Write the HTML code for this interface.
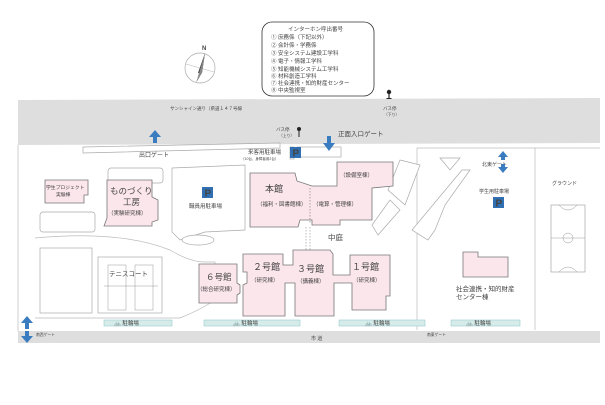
<!DOCTYPE html>
<html><head><meta charset="utf-8"><style>
body{margin:0;background:#fff;width:605px;height:405px;overflow:hidden}
svg{display:block}
text{font-family:"Liberation Sans","Noto Sans CJK JP",sans-serif;fill:#444}
.b{fill:#fbe6ec;stroke:#777;stroke-width:0.8}
.w{fill:#fff;stroke:#aaa;stroke-width:0.7}
.bar{fill:#d6ecea;stroke:#9cc;stroke-width:0.6}
.ar{fill:#3a7cc0}
</style></head><body>
<svg width="605" height="405" viewBox="0 0 605 405">
<rect x="262" y="22" width="112" height="74" rx="10" fill="#fff" stroke="#333" stroke-width="0.8"/>
<g font-size="5.5">
<text x="288" y="31">インターホン呼出番号</text>
<text x="271" y="39">① 庶務係（下記以外）</text>
<text x="271" y="47">② 会計係・学務係</text>
<text x="271" y="55">③ 安全システム建設工学科</text>
<text x="271" y="63">④ 電子・情報工学科</text>
<text x="271" y="71">⑤ 知能機械システム工学科</text>
<text x="271" y="78">⑥ 材料創造工学科</text>
<text x="271" y="85">⑦ 社会連携・知的財産センター</text>
<text x="271" y="92">⑧ 中央監視室</text>
</g>
<circle cx="200" cy="68" r="15" fill="#fff" stroke="#aaa" stroke-width="0.7"/>
<line x1="186" y1="64" x2="214" y2="72" stroke="#bbb" stroke-width="0.6"/>
<polygon points="205,53 198,73 202,73" fill="#333"/>
<polygon points="205,53 202,73 196,83" fill="#888"/>
<text x="202" y="50" font-size="6" font-weight="bold" fill="#222">N</text>
<polygon points="18,100 600,98 600,143 18,145" fill="#dedede"/>
<text x="170" y="110" font-size="4.5">サンシャイン通り（県道１４７号線</text>
<circle cx="389" cy="92" r="2.2" fill="#222"/><rect x="388.4" y="92" width="1.2" height="6" fill="#222"/><rect x="386.5" y="98" width="5" height="1" fill="#222"/>
<text x="383" y="110" font-size="4.5">バス停</text><text x="384" y="116" font-size="3.8">（下り）</text>
<rect x="18" y="145" width="582" height="186" fill="#fff"/>
<line x1="18" y1="145" x2="18" y2="331" stroke="#bbb" stroke-width="0.7"/>
<polygon points="83,147 280,143 280,148 83,153" class="w"/>
<rect x="290" y="147" width="4" height="12" class="w"/>
<rect x="297" y="147" width="44" height="10" class="w"/>
<line x1="417" y1="148" x2="417" y2="330" stroke="#bbb" stroke-width="0.7"/>
<line x1="417" y1="148" x2="600" y2="148" stroke="#bbb" stroke-width="0.7"/>
<line x1="535" y1="148" x2="535" y2="330" stroke="#bbb" stroke-width="0.7"/>
<path d="M35 238 Q120 230 170 250 Q190 262 205 262 L215 262 L215 300 Q200 310 180 318 L35 318" fill="none" stroke="#bbb" stroke-width="0.7"/>
<rect x="40" y="212" width="55" height="20" rx="3" class="w"/>
<rect x="108" y="168" width="55" height="15" rx="3" class="w"/>
<path d="M172 168 L245 165 L245 230 L205 232 L180 240 L172 232 Z" class="w"/>
<ellipse cx="198" cy="240" rx="16" ry="5" class="w"/>
<polygon points="440,158 460,158 450,170" class="w"/>
<path d="M400 160 L420 165 L405 205 L388 190 Z" class="w"/>
<path d="M462 170 L470 170 L445 205 L435 230 L428 240 L412 230 Z" class="w"/>
<path d="M390 200 L400 210 L378 235 L372 225 Z" class="w"/>
<text x="139" y="157" font-size="6">出口ゲート</text>
<text x="338" y="136" font-size="6.5">正面入口ゲート</text>
<circle cx="299" cy="129" r="2" fill="#222"/><rect x="298.5" y="129" width="1" height="8" fill="#222"/>
<text x="276" y="131" font-size="4.5">バス停</text><text x="279" y="137" font-size="3.8">（上り）</text>
<text x="248" y="154" font-size="5.5">来客用駐車場</text>
<text x="241" y="160" font-size="3.5">（10台、身障者用2台）</text>
<g font-size="10" font-weight="bold">
<rect x="290" y="147" width="11" height="11" fill="#2f6fb2"/><text x="292.5" y="156.5" fill="#fff">P</text>
<rect x="202" y="187" width="11" height="11" fill="#2f6fb2"/><text x="204.5" y="196.5" fill="#fff">P</text>
<rect x="60" y="268" width="11" height="11" fill="#2f6fb2"/><text x="62.5" y="277.5" fill="#fff">P</text>
<rect x="493" y="197" width="11" height="11" fill="#2f6fb2"/><text x="495.5" y="206.5" fill="#fff">P</text>
</g>
<text x="189" y="208" font-size="5.5">職員用駐車場</text>
<text x="46" y="290" font-size="5.5">職員用駐車場</text>
<text x="482" y="166" font-size="5">北東ゲート</text>
<text x="479" y="193" font-size="5">学生用駐車場</text>
<path d="M45 180 L88 180 L88 195 L84 195 L84 203 L45 203 Z" class="b"/>
<text x="46" y="189" font-size="4.8">学生プロジェクト</text><text x="56" y="196" font-size="4.8">実験棟</text>
<path d="M107 180 L152 180 L152 197 L158 200 L158 220 L152 222 L152 226 L104 226 L107 218 Z" class="b"/>
<text x="110" y="194" font-size="8.5">ものづくり</text><text x="123" y="205" font-size="8.5">工房</text><text x="108" y="215" font-size="5.5">（実験研究棟）</text>
<path d="M250 173 L295 173 L297 181 L312 186 L337 186 L337 162 L393 162 L393 186 L372 188 L372 220 L340 220 L340 225 L312 225 L312 220 L300 220 L298 227 L250 227 Z" class="b"/>
<line x1="310" y1="188" x2="310" y2="223" stroke="#777" stroke-width="0.6" stroke-dasharray="1.5,1.5"/>
<text x="265" y="192" font-size="9">本館</text><text x="257" y="206" font-size="5.5">（福利・図書館棟）</text>
<text x="340" y="177" font-size="5.5">（設備室棟）</text>
<text x="313" y="206" font-size="5.5">（電算・管理棟）</text>
<line x1="306" y1="227" x2="306" y2="250" stroke="#777" stroke-width="0.5" stroke-dasharray="1.5,1.5"/>
<line x1="310" y1="227" x2="310" y2="250" stroke="#777" stroke-width="0.5" stroke-dasharray="1.5,1.5"/>
<text x="328" y="240" font-size="7.5">中庭</text>
<path d="M243 254 L283 254 L283 265 L293 265 L293 250 L330 250 L333 254 L333 275 L340 275 L350 275 L350 255 L390 255 L390 296 L386 296 L386 310 L352 310 L352 283 L334 283 L334 316 L295 316 L295 283 L285 283 L285 316 L243 316 L243 285 L247 283 L247 272 L243 272 Z" class="b"/>
<text x="253" y="270" font-size="9">２号館</text><text x="251" y="282" font-size="5.5">（研究棟）</text>
<text x="297" y="272" font-size="9">３号館</text><text x="297" y="283" font-size="5.5">（講義棟）</text>
<text x="352" y="270" font-size="9">１号館</text><text x="353" y="282" font-size="5.5">（研究棟）</text>
<path d="M199 264 L237 264 L237 283 L240 285 L240 293 L237 295 L237 303 L199 303 Z" class="b"/>
<text x="206" y="280" font-size="8.5">６号館</text><text x="197" y="291" font-size="5.5">（総合研究棟）</text>
<path d="M463 252 L478 252 L478 257 L508 257 L508 277 L463 277 Z" class="b"/>
<text x="456" y="291" font-size="6.5">社会連携・知的財産</text><text x="456" y="299" font-size="6.5">センター棟</text>
<rect x="40" y="248" width="52" height="65" class="w"/>
<rect x="98" y="257" width="64" height="56" class="w"/>
<rect x="108" y="265" width="18" height="45" fill="none" stroke="#999" stroke-width="0.5"/>
<rect x="135" y="265" width="18" height="45" fill="none" stroke="#999" stroke-width="0.5"/>
<line x1="104" y1="286" x2="158" y2="286" stroke="#999" stroke-width="0.5"/>
<text x="109" y="276" font-size="6.5">テニスコート</text>
<text x="552" y="185" font-size="5">グラウンド</text>
<rect x="551" y="205" width="34" height="67" fill="none" stroke="#999" stroke-width="0.6"/>
<line x1="551" y1="238" x2="585" y2="238" stroke="#999" stroke-width="0.5"/>
<circle cx="568" cy="238" r="5" fill="none" stroke="#999" stroke-width="0.5"/>
<path d="M559 205 Q568 215 577 205 M559 272 Q568 262 577 272" fill="none" stroke="#999" stroke-width="0.5"/>
<rect x="104" y="320" width="68" height="6" class="bar"/>
<rect x="204" y="320" width="96" height="6" class="bar"/>
<rect x="339" y="320" width="86" height="6" class="bar"/>
<rect x="451" y="320" width="69" height="6" class="bar"/>
<g font-size="5.5"><text x="114" y="325">🚲 駐輪場</text><text x="233" y="325">🚲 駐輪場</text><text x="365" y="325">🚲 駐輪場</text><text x="466" y="325">🚲 駐輪場</text></g>
<rect x="18" y="331" width="582" height="12" fill="#dedede"/>
<text x="36" y="336" font-size="3.8">南西ゲート</text>
<text x="427" y="336" font-size="3.8">南東ゲート</text>
<text x="311" y="340" font-size="5">市 道</text>
<g class="ar">
<polygon points="155,130 149,137 153,137 153,143 157,143 157,137 161,137"/>
<polygon points="329,151 323,143 327,143 327,136 331,136 331,143 335,143"/>
<polygon points="503,151 498,157 501,157 501,160 505,160 505,157 508,157"/>
<polygon points="503,173 498,167 501,167 501,164 505,164 505,167 508,167"/>
<polygon points="27,316 21,323 25,323 25,329 29,329 29,323 33,323"/>
<polygon points="27,343 21,336 25,336 25,331 29,331 29,336 33,336"/>
</g>
</svg>
</body></html>
